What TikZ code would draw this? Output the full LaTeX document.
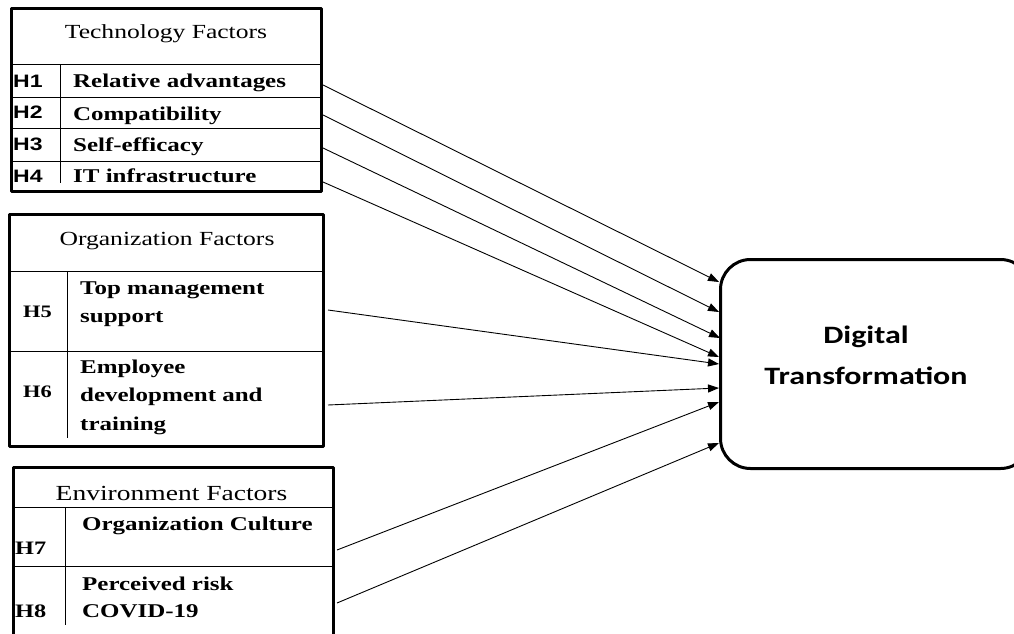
\documentclass[tikz,border=0pt]{standalone}
\usepackage{fontspec}
\setmainfont{Liberation Serif}[FakeStretch=1.28]
\setsansfont{Liberation Sans}[FakeStretch=1.28]
\newfontfamily\calibrifont{Carlito}[FakeStretch=1.28]
\usetikzlibrary{arrows.meta}

\tikzset{
  factorbox/.style={draw, line width=3pt, inner sep=0pt, outer sep=0pt},
  dtbox/.style={draw, line width=3pt, rounded corners=30pt, inner sep=0pt},
  rule/.style={line width=1pt},
  head/.style={font=\fontsize{20}{24}\selectfont, inner sep=0pt, anchor=base},
  item/.style={font=\bfseries\fontsize{19.5}{28}\selectfont, inner sep=0pt, anchor=base west, align=left},
  hsans/.style={font=\sffamily\bfseries\fontsize{18}{20}\selectfont, inner sep=0pt, anchor=base west},
  hserif/.style={font=\bfseries\fontsize{17.5}{20}\selectfont, inner sep=0pt, anchor=base west},
  dttext/.style={font=\calibrifont\bfseries\fontsize{25}{41}\selectfont, inner sep=0pt, anchor=base, align=center},
  link/.style={->, line width=0.9pt},
}

\begin{document}
\begin{tikzpicture}[x=1pt, y=-1pt, line join=round, >={Triangle[length=11pt,width=8pt]}]
    \clip (0,0) rectangle (1014,634);
    \fill[white] (0,0) rectangle (1014,634);
    % technology factors
    \node[factorbox, minimum width=310pt, minimum height=183pt] (tech) at (166.5,100) {};
    \draw[rule] (10,65) -- (323,65);
    \foreach \y in {97,128,161} \draw[rule] (10,\y) -- (323,\y);
    \draw[rule] (60,65) -- (60,183);
    \node[head] (techhead) at (166,39) {Technology Factors};
    \node[hsans] (h1) at (13,87) {H1};
    \node[hsans] (h2) at (13,118) {H2};
    \node[hsans] (h3) at (13,150) {H3};
    \node[hsans] (h4) at (13,182) {H4};
    \node[item] (reladv) at (73,88) {Relative advantages};
    \node[item] (compat) at (73,120) {Compatibility};
    \node[item] (selfeff) at (73,151) {Self-efficacy};
    \node[item] (itinfra) at (73,182) {IT infrastructure};
    % organization factors
    \node[factorbox, minimum width=314pt, minimum height=232pt] (org) at (166.5,330.5) {};
    \draw[rule] (8,271) -- (325,271);
    \draw[rule] (8,351) -- (325,351);
    \draw[rule] (67,271) -- (67,438);
    \node[head] (orghead) at (167,245) {Organization Factors};
    \node[hserif] (h5) at (23,317) {H5};
    \node[hserif] (h6) at (23,397) {H6};
    \node[item] (topmgmt) at (80,322) {Top management\\support};
    \node[item, font=\bfseries\fontsize{19.5}{28.5}\selectfont] (empdev) at (80,430) {Employee\\development and\\training};
    % environment factors
    \node[factorbox, minimum width=320pt, minimum height=232.5pt] (env) at (173.5,583.75) {};
    \draw[rule] (12,507) -- (335,507);
    \draw[rule] (12,566) -- (335,566);
    \draw[rule] (65,507) -- (65,625);
    \node[head, font=\fontsize{21.5}{24}\selectfont] (envhead) at (171.5,500) {Environment Factors};
    \node[hserif, font=\bfseries\fontsize{19}{20}\selectfont] (h7) at (15,554) {H7};
    \node[hserif, font=\bfseries\fontsize{19}{20}\selectfont] (h8) at (15,617) {H8};
    \node[item] (orgcult) at (82,530) {Organization Culture};
    \node[item, font=\bfseries\fontsize{19.5}{27}\selectfont] (risk) at (82,617) {Perceived risk\\COVID-19};
    % digital transformation
    \node[dtbox, minimum width=310pt, minimum height=209pt] (dt) at (875.5,364) {};
    \node[dttext] (dtlabel) at (866,384) {Digital\\Transformation};
    % hypothesis links
    \coordinate (s1) at (323,85);  \coordinate (e1) at (719,282);
    \coordinate (s2) at (323,115); \coordinate (e2) at (719,312);
    \coordinate (s3) at (323,148); \coordinate (e3) at (720,338);
    \coordinate (s4) at (323,182); \coordinate (e4) at (719,357);
    \coordinate (s5) at (328,310); \coordinate (e5) at (719,364);
    \coordinate (s6) at (328,405); \coordinate (e6) at (719,388);
    \coordinate (s7) at (337,550); \coordinate (e7) at (719,402);
    \coordinate (s8) at (337,603); \coordinate (e8) at (719,443);
    \foreach \i in {1,...,8} \draw[link] (s\i) -- (e\i);
\end{tikzpicture}
\end{document}
